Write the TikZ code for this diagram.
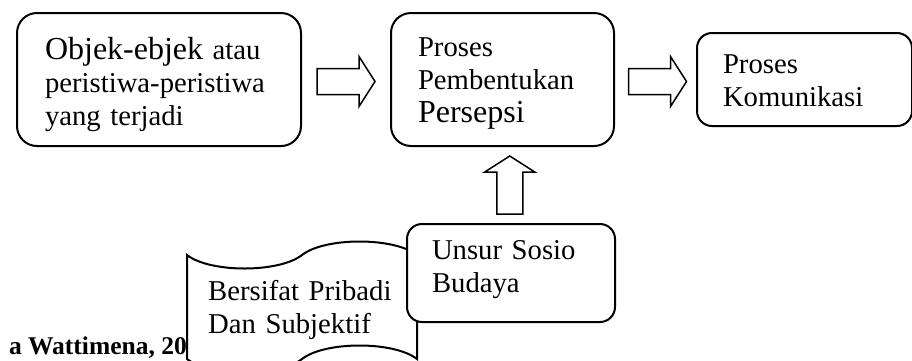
\documentclass[tikz,border=0pt]{standalone}
\usepackage{fontspec}
\setmainfont{Liberation Serif}
\usetikzlibrary{calc}

\newcommand{\bigword}[1]{{\fontsize{32}{33}\selectfont #1}}

\tikzset{
  fatarrow/.pic={\draw[line width=1.5pt,fill=white] (-29,-13) -- (13,-13) -- (13,-25) -- (29,0) -- (13,25) -- (13,13) -- (-29,13) -- cycle;}
}

\begin{document}
\begin{tikzpicture}[x=1pt,y=-1pt,
  every node/.style={font=\fontsize{28.7}{33}\selectfont},
  box/.style={draw,line width=2pt,fill=white,anchor=north west,align=left,inner ysep=0pt}]
\clip (0,0) rectangle (912,360);
\node[box,rounded corners=20pt,inner xsep=28pt,text width=228pt,text height=46pt,text depth=87pt] (objek) at (16,12) {\bigword{Objek-ebjek} atau\\peristiwa-peristiwa\\yang terjadi};
\node[box,rounded corners=20pt,inner xsep=27pt,text width=169pt,text height=43pt,text depth=90pt] (proses) at (390,12) {Proses\\Pembentukan\\\bigword{Persepsi}};
\node[box,rounded corners=15pt,inner xsep=26pt,text width=163pt,text height=40pt,text depth=53pt] (komunikasi) at (696,32) {Proses\\Komunikasi};
\pic at ($(objek.east)!0.5!(proses.west)+(0,2)$) {fatarrow};
\pic at ($(proses.east)!0.5!(komunikasi.west)+(2,2)$) {fatarrow};
% sumber, sebagian tertutup
\node[font=\fontsize{25.5}{30}\selectfont\bfseries,anchor=base east,inner sep=0pt] (sumber) at (187,354) {a Wattimena, 20};
% pita berlubang
\draw[line width=2pt,fill=white] (187,255) .. controls (210,273) and (279,273) .. (302,255) .. controls (325,237) and (394,237) .. (417,255) -- (417,359) .. controls (394,341) and (325,341) .. (302,359) .. controls (279,377) and (210,377) .. (187,359) -- cycle;
\node[anchor=base west,inner sep=0pt,align=left,text width=200pt] (pribadi) at (208,300) {Bersifat Pribadi\\Dan Subjektif};
\node[box,rounded corners=15pt,inner xsep=25pt,text width=158pt,text height=35pt,text depth=63pt] (unsur) at (406,223) {Unsur Sosio\\Budaya};
\pic[rotate=90] at ($(unsur.north)!0.5!(proses.south)+(3,0)$) {fatarrow};
\end{tikzpicture}
\end{document}
